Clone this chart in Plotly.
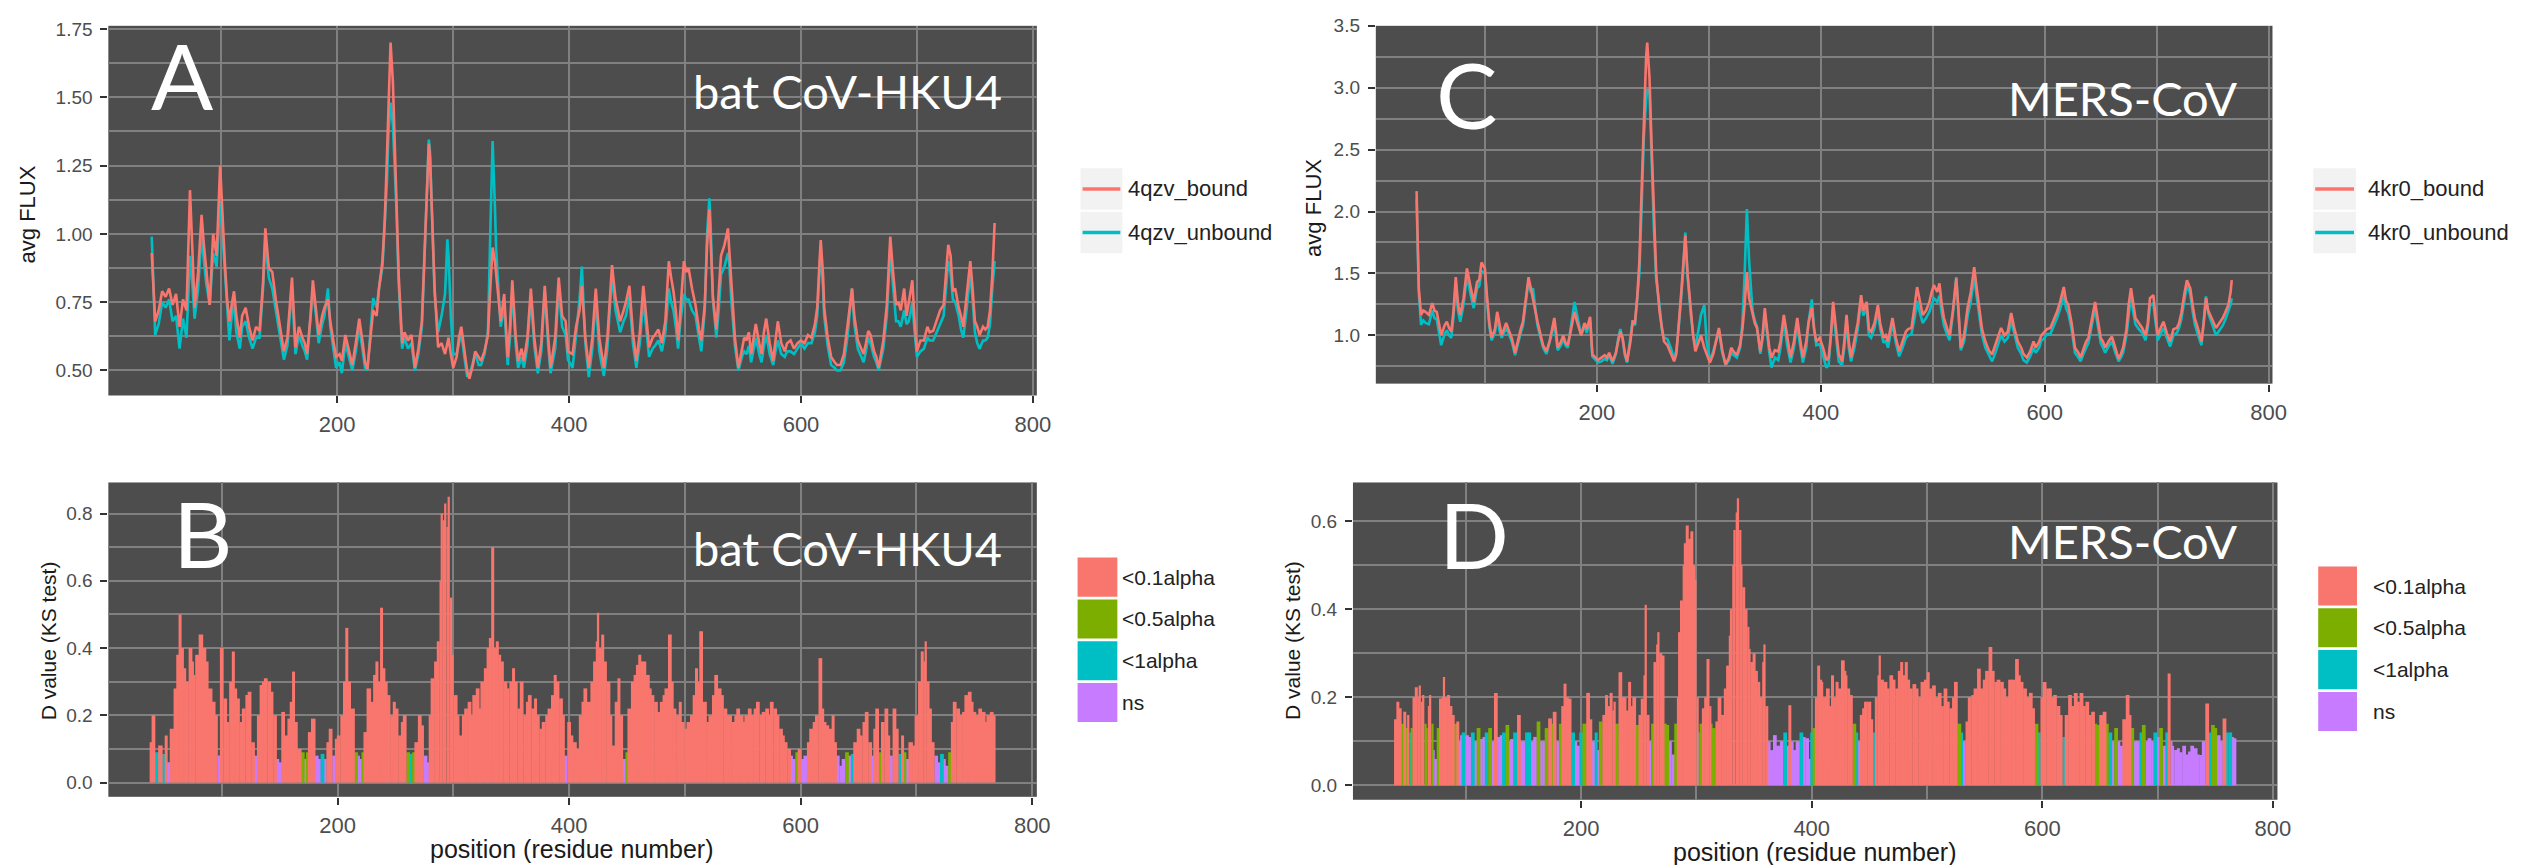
import numpy as np
import plotly.graph_objects as go

W, H = 2537, 865

# ---------------- Panel A : bat CoV-HKU4, avg FLUX ----------------
a_pos = [40, 43, 46, 49, 52, 55, 58, 61, 64, 67,
         70, 73, 75, 77, 80, 83, 85, 87, 90, 93,
         96, 99, 101, 103, 105, 107, 109, 111, 113, 116,
         118, 121, 124, 127, 130, 133, 136, 138, 141, 144,
         147, 149, 152, 154, 157, 159, 161, 164, 167, 170,
         172, 174, 177, 179, 182, 184, 187, 189, 192, 194,
         197, 199, 202, 204, 207, 210, 213, 216, 219, 222,
         224, 226, 229, 231, 234, 236, 239, 241, 243, 244,
         246, 248, 250, 251, 253, 256, 258, 261, 264, 267,
         270, 273, 275, 277, 279, 280, 282, 284, 287, 290,
         293, 295, 296, 298, 300, 303, 305, 307, 310, 312,
         314, 317, 319, 322, 324, 327, 330, 332, 334, 336,
         337, 339, 341, 344, 347, 349, 351, 354, 356, 359,
         361, 364, 367, 370, 373, 376, 379, 382, 384, 388,
         391, 394, 397, 399, 403, 406, 409, 411, 414, 417,
         420, 423, 426, 430, 433, 435, 437, 440, 444, 447,
         449, 452, 455, 458, 461, 464, 467, 469, 472, 474,
         477, 480, 483, 486, 488, 490, 492, 494, 496, 499,
         501, 503, 506, 509, 512, 514, 517, 519, 521, 522,
         524, 527, 529, 531, 534, 537, 538, 540, 543, 546,
         549, 551, 553, 555, 557, 559, 561, 564, 566, 568,
         570, 573, 576, 578, 580, 583, 586, 588, 591, 594,
         597, 600, 603, 606, 609, 612, 614, 616, 617, 619,
         620, 623, 626, 629, 631, 634, 637, 640, 642, 644,
         646, 649, 652, 654, 656, 658, 660, 663, 665, 667,
         669, 671, 674, 676, 677, 679, 680, 682, 684, 686,
         689, 691, 693, 696, 698, 700, 703, 706, 709, 711,
         714, 717, 720, 723, 725, 727, 729, 731, 733, 736,
         738, 740, 743, 746, 748, 750, 752, 754, 757, 759,
         761, 763, 765, 767]
a_bound = [0.93, 0.68, 0.72, 0.79, 0.77, 0.80, 0.74, 0.78, 0.66, 0.76,
           0.72, 1.16, 0.95, 0.73, 0.86, 1.07, 0.96, 0.87, 0.74, 1.00,
           0.92, 1.25, 1.05, 0.90, 0.76, 0.68, 0.74, 0.79, 0.70, 0.62,
           0.70, 0.73, 0.66, 0.61, 0.66, 0.645, 0.82, 1.02, 0.875, 0.86,
           0.76, 0.705, 0.62, 0.57, 0.62, 0.72, 0.84, 0.585, 0.66, 0.62,
           0.60, 0.56, 0.70, 0.83, 0.72, 0.63, 0.70, 0.73, 0.76, 0.68,
           0.60, 0.55, 0.56, 0.535, 0.63, 0.58, 0.52, 0.60, 0.69, 0.60,
           0.53, 0.505, 0.62, 0.72, 0.70, 0.80, 0.90, 1.05, 1.30, 1.47,
           1.70, 1.556, 1.30, 1.16, 0.85, 0.60, 0.64, 0.61, 0.63, 0.51,
           0.58, 0.68, 0.90, 1.16, 1.33, 1.28, 1.05, 0.80, 0.585, 0.60,
           0.56, 0.60, 0.62, 0.56, 0.51, 0.55, 0.62, 0.66, 0.56, 0.50,
           0.47, 0.52, 0.57, 0.55, 0.535, 0.57, 0.63, 0.80, 0.95, 0.90,
           0.85, 0.76, 0.68, 0.78, 0.55, 0.66, 0.83, 0.62, 0.535, 0.58,
           0.535, 0.62, 0.80, 0.62, 0.51, 0.60, 0.81, 0.62, 0.51, 0.62,
           0.84, 0.70, 0.68, 0.57, 0.56, 0.66, 0.72, 0.81, 0.62, 0.51,
           0.62, 0.80, 0.62, 0.51, 0.62, 0.75, 0.886, 0.765, 0.68, 0.72,
           0.75, 0.81, 0.64, 0.535, 0.64, 0.81, 0.66, 0.585, 0.62, 0.63,
           0.65, 0.60, 0.68, 0.90, 0.84, 0.79, 0.72, 0.61, 0.72, 0.90,
           0.86, 0.875, 0.80, 0.74, 0.65, 0.61, 0.74, 0.96, 1.09, 1.00,
           0.77, 0.65, 0.78, 0.92, 0.96, 1.02, 0.95, 0.80, 0.62, 0.51,
           0.58, 0.62, 0.61, 0.64, 0.56, 0.62, 0.67, 0.60, 0.56, 0.64,
           0.69, 0.60, 0.535, 0.61, 0.68, 0.60, 0.57, 0.60, 0.61, 0.58,
           0.60, 0.61, 0.60, 0.63, 0.62, 0.67, 0.73, 0.90, 0.977, 0.85,
           0.73, 0.62, 0.55, 0.53, 0.52, 0.52, 0.56, 0.66, 0.74, 0.80,
           0.70, 0.61, 0.58, 0.56, 0.60, 0.645, 0.63, 0.57, 0.55, 0.51,
           0.56, 0.61, 0.74, 0.90, 0.99, 0.88, 0.84, 0.74, 0.75, 0.72,
           0.80, 0.70, 0.75, 0.83, 0.68, 0.57, 0.61, 0.61, 0.66, 0.64,
           0.645, 0.68, 0.72, 0.74, 0.86, 0.96, 0.92, 0.79, 0.80, 0.73,
           0.70, 0.66, 0.78, 0.90, 0.80, 0.68, 0.66, 0.63, 0.66, 0.65,
           0.66, 0.72, 0.85, 1.04]
a_unbound = [0.99, 0.63, 0.67, 0.75, 0.73, 0.76, 0.68, 0.70, 0.58, 0.69,
             0.62, 0.92, 0.82, 0.69, 0.80, 1.00, 0.90, 0.82, 0.74, 0.93,
             0.88, 1.12, 1.00, 0.86, 0.72, 0.61, 0.70, 0.75, 0.64, 0.58,
             0.66, 0.68, 0.62, 0.58, 0.62, 0.62, 0.80, 0.97, 0.84, 0.80,
             0.72, 0.67, 0.58, 0.54, 0.59, 0.69, 0.80, 0.56, 0.63, 0.59,
             0.57, 0.54, 0.68, 0.80, 0.69, 0.60, 0.67, 0.70, 0.80, 0.66,
             0.57, 0.51, 0.53, 0.49, 0.60, 0.55, 0.50, 0.57, 0.66, 0.57,
             0.51, 0.50, 0.66, 0.765, 0.73, 0.80, 0.88, 1.02, 1.20, 1.35,
             1.48, 1.40, 1.20, 1.10, 0.82, 0.58, 0.62, 0.58, 0.60, 0.50,
             0.56, 0.66, 0.88, 1.14, 1.345, 1.30, 1.02, 0.78, 0.64, 0.70,
             0.78, 0.98, 0.92, 0.70, 0.56, 0.56, 0.60, 0.64, 0.54, 0.48,
             0.48, 0.53, 0.56, 0.52, 0.52, 0.56, 0.64, 1.00, 1.34, 1.10,
             0.95, 0.80, 0.66, 0.74, 0.52, 0.62, 0.80, 0.59, 0.51, 0.55,
             0.51, 0.59, 0.77, 0.59, 0.49, 0.57, 0.79, 0.59, 0.49, 0.58,
             0.80, 0.66, 0.63, 0.54, 0.51, 0.63, 0.76, 0.88, 0.60, 0.476,
             0.58, 0.76, 0.57, 0.48, 0.58, 0.72, 0.85, 0.72, 0.64, 0.68,
             0.70, 0.77, 0.60, 0.51, 0.60, 0.76, 0.62, 0.55, 0.58, 0.59,
             0.61, 0.57, 0.64, 0.80, 0.75, 0.72, 0.66, 0.58, 0.68, 0.78,
             0.76, 0.76, 0.72, 0.70, 0.62, 0.57, 0.72, 1.00, 1.13, 1.04,
             0.76, 0.62, 0.72, 0.85, 0.88, 0.93, 0.90, 0.75, 0.59, 0.50,
             0.55, 0.57, 0.56, 0.59, 0.53, 0.58, 0.62, 0.56, 0.53, 0.59,
             0.63, 0.56, 0.52, 0.57, 0.61, 0.56, 0.55, 0.57, 0.57, 0.56,
             0.58, 0.60, 0.58, 0.60, 0.60, 0.64, 0.70, 0.88, 0.95, 0.80,
             0.70, 0.59, 0.52, 0.51, 0.50, 0.50, 0.53, 0.62, 0.71, 0.80,
             0.67, 0.58, 0.55, 0.53, 0.57, 0.62, 0.60, 0.55, 0.53, 0.50,
             0.54, 0.58, 0.70, 0.85, 0.94, 0.83, 0.77, 0.68, 0.68, 0.66,
             0.72, 0.67, 0.68, 0.75, 0.64, 0.55, 0.57, 0.58, 0.62, 0.61,
             0.61, 0.64, 0.67, 0.70, 0.80, 0.90, 0.86, 0.76, 0.75, 0.70,
             0.65, 0.62, 0.73, 0.86, 0.76, 0.64, 0.60, 0.58, 0.61, 0.61,
             0.62, 0.67, 0.80, 0.90]

# ---------------- Panel C : MERS-CoV, avg FLUX ----------------
c_pos = [39, 41, 43, 45, 47, 50, 53, 55, 57, 59,
         61, 64, 66, 68, 70, 72, 74, 76, 78, 81,
         84, 87, 90, 93, 95, 97, 100, 102, 104, 106,
         109, 111, 113, 115, 117, 119, 121, 124, 127, 130,
         132, 134, 136, 139, 141, 143, 145, 147, 150, 152,
         155, 158, 160, 162, 164, 165, 168, 170, 172, 174,
         177, 180, 182, 184, 186, 189, 191, 194, 196, 199,
         201, 204, 207, 209, 211, 214, 217, 219, 221, 223,
         225, 227, 230, 232, 234, 236, 238, 240, 242, 244,
         245, 247, 249, 251, 253, 256, 258, 260, 263, 266,
         269, 271, 273, 275, 277, 279, 281, 284, 286, 288,
         291, 293, 296, 298, 301, 304, 307, 309, 312, 315,
         318, 320, 322, 325, 328, 330, 332, 334, 336, 339,
         341, 343, 346, 348, 350, 352, 354, 356, 359, 362,
         364, 367, 370, 373, 376, 379, 381, 384, 387, 389,
         392, 394, 396, 399, 402, 405, 407, 409, 411, 413,
         416, 419, 421, 423, 425, 427, 430, 433, 436, 438,
         441, 443, 445, 448, 451, 453, 456, 458, 460, 462,
         464, 467, 470, 473, 476, 478, 481, 484, 486, 488,
         491, 494, 497, 499, 501, 504, 506, 508, 510, 513,
         515, 518, 520, 521, 523, 525, 528, 531, 534, 537,
         539, 541, 544, 547, 550, 553, 556, 559, 561, 564,
         567, 570, 573, 576, 579, 581, 584, 587, 590, 592,
         595, 597, 599, 602, 605, 608, 611, 614, 617, 619,
         621, 624, 627, 630, 632, 635, 637, 639, 642, 645,
         647, 650, 652, 654, 657, 660, 663, 666, 668, 670,
         673, 675, 677, 679, 681, 684, 687, 690, 692, 694,
         697, 699, 701, 703, 706, 709, 712, 715, 718, 720,
         722, 725, 727, 729, 730, 732, 734, 737, 740, 742,
         744, 746, 749, 751, 753, 756, 759, 761, 764, 766,
         767]
c_bound = [2.165, 1.38, 1.165, 1.20, 1.19, 1.165, 1.26, 1.20, 1.19, 1.10,
           1.00, 1.08, 1.11, 1.06, 1.03, 1.20, 1.47, 1.25, 1.165, 1.30,
           1.54, 1.40, 1.27, 1.43, 1.45, 1.59, 1.54, 1.30, 1.10, 0.98,
           1.05, 1.19, 1.08, 1.00, 1.05, 1.10, 1.05, 0.98, 0.86, 0.98,
           1.05, 1.11, 1.25, 1.47, 1.38, 1.30, 1.20, 1.11, 1.00, 0.92,
           0.87, 0.96, 1.05, 1.14, 1.00, 0.90, 0.95, 1.00, 0.94, 0.92,
           1.05, 1.19, 1.12, 1.05, 1.00, 1.10, 1.05, 1.15, 0.845, 0.82,
           0.80, 0.82, 0.84, 0.82, 0.86, 0.79, 0.86, 0.95, 1.03, 0.98,
           0.86, 0.79, 0.95, 1.11, 1.10, 1.30, 1.60, 2.18, 2.80, 3.245,
           3.365, 3.085, 2.50, 1.91, 1.50, 1.19, 1.05, 0.95, 0.92, 0.85,
           0.79, 0.85, 1.05, 1.30, 1.55, 1.805, 1.50, 1.19, 1.00, 0.87,
           0.95, 1.00, 0.90, 0.85, 0.78, 0.85, 0.98, 1.06, 0.88, 0.765,
           0.82, 0.90, 0.87, 0.84, 0.925, 1.05, 1.245, 1.51, 1.30, 1.165,
           1.10, 1.06, 0.87, 1.00, 1.22, 1.05, 0.90, 0.82, 0.88, 0.87,
           0.95, 1.165, 0.98, 0.82, 0.95, 1.14, 1.00, 0.82, 0.95, 1.10,
           1.22, 1.05, 0.95, 0.98, 0.90, 0.80, 0.82, 1.00, 1.27, 1.10,
           0.85, 0.79, 0.95, 1.165, 0.95, 0.82, 0.95, 1.10, 1.325, 1.20,
           1.27, 1.05, 1.03, 1.10, 1.245, 1.10, 0.98, 1.00, 0.95, 1.05,
           1.14, 0.98, 0.87, 0.95, 1.03, 1.05, 1.06, 1.25, 1.39, 1.30,
           1.165, 1.20, 1.27, 1.35, 1.405, 1.35, 1.42, 1.25, 1.14, 1.05,
           1.00, 1.20, 1.40, 1.46, 1.20, 0.90, 1.00, 1.22, 1.35, 1.55,
           1.40, 1.245, 1.05, 0.95, 0.88, 0.845, 0.92, 1.00, 1.06, 1.00,
           1.03, 1.18, 1.05, 0.95, 0.90, 0.85, 0.82, 0.87, 0.95, 0.90,
           0.95, 1.00, 1.02, 1.05, 1.06, 1.12, 1.19, 1.28, 1.39, 1.28,
           1.245, 1.10, 0.90, 0.86, 0.82, 0.90, 0.95, 0.98, 1.12, 1.27,
           1.15, 0.98, 0.95, 0.90, 0.95, 0.99, 0.90, 0.81, 0.85, 0.90,
           1.05, 1.25, 1.38, 1.25, 1.14, 1.10, 1.06, 1.00, 1.10, 1.30,
           1.325, 1.15, 1.00, 1.05, 1.11, 1.02, 0.95, 1.05, 1.06, 1.10,
           1.18, 1.35, 1.445, 1.40, 1.38, 1.25, 1.14, 1.05, 0.95, 1.10,
           1.30, 1.20, 1.14, 1.10, 1.06, 1.10, 1.14, 1.18, 1.245, 1.35,
           1.445]
c_unbound = [2.10, 1.34, 1.085, 1.12, 1.10, 1.09, 1.20, 1.14, 1.13, 1.04,
             0.92, 1.01, 1.04, 1.00, 0.98, 1.15, 1.42, 1.20, 1.11, 1.25,
             1.48, 1.34, 1.22, 1.38, 1.40, 1.52, 1.50, 1.28, 1.07, 0.96,
             1.02, 1.16, 1.04, 0.98, 1.02, 1.06, 1.02, 0.95, 0.84, 0.96,
             1.02, 1.08, 1.22, 1.44, 1.35, 1.38, 1.22, 1.08, 0.97, 0.90,
             0.85, 0.94, 1.02, 1.10, 0.97, 0.88, 0.92, 0.98, 0.92, 0.90,
             1.08, 1.27, 1.18, 1.08, 1.00, 1.08, 1.02, 1.12, 0.83, 0.80,
             0.78, 0.79, 0.81, 0.80, 0.84, 0.77, 0.85, 0.97, 1.05, 0.97,
             0.84, 0.78, 0.97, 1.12, 1.08, 1.28, 1.50, 2.05, 2.60, 2.90,
             2.98, 2.98, 2.40, 1.85, 1.45, 1.24, 1.05, 0.98, 0.97, 0.90,
             0.81, 0.88, 1.05, 1.25, 1.50, 1.83, 1.48, 1.16, 1.00, 0.90,
             1.05, 1.165, 1.245, 0.95, 0.80, 0.87, 0.97, 1.04, 0.86, 0.76,
             0.80, 0.86, 0.84, 0.82, 0.90, 1.10, 1.50, 2.02, 1.60, 1.20,
             1.12, 1.07, 0.85, 0.97, 1.18, 1.00, 0.86, 0.74, 0.82, 0.80,
             0.90, 1.12, 0.92, 0.78, 0.90, 1.10, 0.95, 0.78, 0.90, 1.10,
             1.29, 1.06, 0.92, 0.93, 0.84, 0.74, 0.76, 0.96, 1.22, 1.04,
             0.79, 0.76, 0.90, 1.12, 0.90, 0.79, 0.90, 1.05, 1.28, 1.16,
             1.22, 1.00, 0.98, 1.06, 1.20, 1.06, 0.94, 0.96, 0.90, 1.00,
             1.10, 0.94, 0.83, 0.90, 0.98, 1.00, 1.01, 1.15, 1.28, 1.20,
             1.10, 1.14, 1.19, 1.25, 1.30, 1.27, 1.32, 1.18, 1.08, 1.00,
             0.96, 1.18, 1.42, 1.47, 1.18, 0.88, 0.95, 1.15, 1.28, 1.47,
             1.33, 1.18, 1.00, 0.90, 0.84, 0.79, 0.86, 0.95, 1.00, 0.95,
             0.98, 1.12, 1.00, 0.90, 0.85, 0.80, 0.78, 0.83, 0.90, 0.86,
             0.90, 0.96, 0.97, 1.01, 1.01, 1.07, 1.14, 1.22, 1.33, 1.22,
             1.18, 1.05, 0.86, 0.82, 0.79, 0.86, 0.90, 0.94, 1.08, 1.22,
             1.10, 0.94, 0.90, 0.86, 0.91, 0.95, 0.86, 0.79, 0.82, 0.86,
             1.00, 1.18, 1.32, 1.19, 1.09, 1.05, 1.02, 0.96, 1.06, 1.24,
             1.26, 1.10, 0.96, 1.00, 1.06, 0.98, 0.91, 1.00, 1.02, 1.06,
             1.13, 1.30, 1.40, 1.36, 1.33, 1.20, 1.09, 1.00, 0.92, 1.12,
             1.315, 1.18, 1.09, 1.05, 1.00, 1.04, 1.08, 1.12, 1.19, 1.25,
             1.30]

# ---------------- Panel B : bat CoV-HKU4, D value ----------------
b_pos = [39, 41, 44, 47, 50, 52, 54, 57, 60, 62,
         64, 66, 68, 70, 73, 75, 76, 79, 82, 85,
         87, 90, 93, 95, 98, 100, 103, 105, 108, 110,
         112, 114, 117, 119, 122, 124, 127, 129, 132, 134,
         136, 138, 141, 143, 146, 148, 151, 153, 156, 158,
         160, 162, 164, 167, 170, 172, 174, 176, 179, 182,
         184, 187, 189, 192, 194, 197, 199, 201, 204, 206,
         208, 210, 213, 216, 218, 220, 222, 224, 227, 230,
         232, 234, 236, 238, 240, 242, 244, 247, 249, 251,
         254, 256, 258, 261, 263, 266, 268, 271, 273, 276,
         278, 280, 282, 285, 287, 289, 290, 292, 293, 295,
         296, 298, 299, 302, 304, 306, 309, 311, 314, 316,
         318, 321, 323, 325, 328, 330, 332, 334, 336, 338,
         340, 342, 345, 347, 350, 352, 354, 357, 359, 362,
         364, 366, 369, 371, 373, 376, 378, 381, 383, 386,
         388, 390, 393, 395, 397, 400, 402, 405, 407, 410,
         412, 414, 417, 420, 422, 424, 425, 427, 429, 431,
         434, 436, 438, 441, 443, 445, 448, 450, 452, 455,
         457, 459, 461, 463, 465, 468, 470, 472, 475, 477,
         480, 482, 484, 487, 489, 491, 494, 496, 498, 501,
         503, 506, 508, 510, 512, 514, 517, 520, 522, 525,
         527, 530, 532, 535, 537, 539, 542, 544, 546, 549,
         551, 553, 556, 558, 561, 563, 566, 568, 571, 573,
         575, 578, 580, 583, 585, 587, 590, 592, 594, 597,
         599, 602, 604, 607, 609, 612, 614, 617, 619, 621,
         623, 626, 628, 630, 632, 635, 637, 640, 642, 645,
         647, 650, 652, 655, 657, 660, 662, 664, 666, 669,
         671, 674, 676, 678, 681, 683, 686, 688, 690, 692,
         695, 698, 700, 703, 705, 707, 708, 710, 712, 714,
         717, 719, 722, 724, 726, 729, 731, 733, 736, 738,
         741, 743, 746, 748, 750, 753, 755, 758, 760, 762,
         765, 767]
b_val = [0.12, 0.20, 0.09, 0.11, 0.085, 0.14, 0.06, 0.16, 0.28, 0.38,
         0.50, 0.40, 0.34, 0.30, 0.40, 0.36, 0.32, 0.38, 0.44, 0.40,
         0.36, 0.28, 0.24, 0.20, 0.08, 0.40, 0.25, 0.18, 0.30, 0.39,
         0.28, 0.25, 0.18, 0.22, 0.26, 0.27, 0.12, 0.08, 0.20, 0.29,
         0.30, 0.31, 0.30, 0.27, 0.20, 0.07, 0.06, 0.21, 0.14, 0.19,
         0.24, 0.33, 0.18, 0.10, 0.09, 0.07, 0.09, 0.15, 0.19, 0.08,
         0.07, 0.085, 0.07, 0.12, 0.16, 0.08, 0.13, 0.14, 0.20, 0.30,
         0.46, 0.30, 0.22, 0.09, 0.08, 0.07, 0.09, 0.15, 0.28, 0.24,
         0.32, 0.36, 0.30, 0.52, 0.34, 0.30, 0.26, 0.20, 0.24, 0.22,
         0.14, 0.18, 0.20, 0.09, 0.085, 0.09, 0.12, 0.20, 0.17, 0.08,
         0.06, 0.20, 0.31, 0.36, 0.42, 0.60, 0.80, 0.78, 0.83, 0.76,
         0.85, 0.55, 0.38, 0.26, 0.20, 0.14, 0.20, 0.22, 0.24, 0.20,
         0.26, 0.28, 0.22, 0.30, 0.34, 0.40, 0.43, 0.70, 0.40, 0.42,
         0.38, 0.36, 0.30, 0.28, 0.30, 0.34, 0.30, 0.22, 0.30, 0.20,
         0.24, 0.26, 0.22, 0.25, 0.20, 0.16, 0.18, 0.20, 0.22, 0.26,
         0.32, 0.30, 0.25, 0.20, 0.08, 0.18, 0.14, 0.12, 0.10, 0.20,
         0.24, 0.28, 0.24, 0.30, 0.36, 0.42, 0.505, 0.40, 0.44, 0.36,
         0.30, 0.20, 0.11, 0.24, 0.31, 0.20, 0.07, 0.09, 0.22, 0.30,
         0.32, 0.35, 0.38, 0.36, 0.36, 0.32, 0.28, 0.26, 0.24, 0.21,
         0.24, 0.26, 0.28, 0.44, 0.30, 0.22, 0.20, 0.24, 0.18, 0.16,
         0.18, 0.20, 0.26, 0.34, 0.30, 0.45, 0.24, 0.18, 0.20, 0.26,
         0.32, 0.28, 0.26, 0.22, 0.20, 0.20, 0.18, 0.20, 0.22, 0.20,
         0.18, 0.20, 0.22, 0.20, 0.22, 0.24, 0.20, 0.21, 0.22, 0.20,
         0.24, 0.22, 0.20, 0.16, 0.14, 0.12, 0.10, 0.08, 0.07, 0.09,
         0.10, 0.07, 0.08, 0.12, 0.16, 0.18, 0.20, 0.37, 0.22, 0.18,
         0.17, 0.16, 0.20, 0.12, 0.08, 0.05, 0.07, 0.09, 0.08, 0.085,
         0.12, 0.16, 0.14, 0.18, 0.21, 0.12, 0.08, 0.16, 0.22, 0.09,
         0.18, 0.22, 0.14, 0.08, 0.22, 0.16, 0.085, 0.14, 0.09, 0.07,
         0.12, 0.11, 0.20, 0.30, 0.39, 0.36, 0.42, 0.30, 0.22, 0.12,
         0.08, 0.06, 0.085, 0.07, 0.05, 0.09, 0.18, 0.24, 0.22, 0.20,
         0.21, 0.26, 0.27, 0.24, 0.21, 0.20, 0.22, 0.21, 0.18, 0.20,
         0.21, 0.20]
b_cat = ("rrtrtrprrr" "rrrrrrrrrr" "rrrrprrrrr" "rrrrrrrprr" "rrrrrpprrr"
         "rrrrgpgrrp" "ptprrprrrr" "rrrgppgrrr" "rrrrrrrrrr" "rrrgtgrrrp"
         "prrrrrrrrr" "rrrrrrrrrr" "rrrrrrrrrr" "rrrrrrrrrr" "rrrrrrrrrr"
         "rrrrprrrrr" "rrrrrrrrrr" "rrrrrrpgrr" "rrrrrrrrrr" "rrrrrrrrrr"
         "rrrrrrrrrr" "rrrrrrrrrr" "rrrrrrrrrr" "rrrrrrrppg" "rpprrrrrrr"
         "rrrrpppgpt" "rrrrrrprrg" "rrrprrtrgp" "rrrrrrrrrr" "pptppgrrrr"
         "rrrrrrrrrr" "rr")

# ---------------- Panel D : MERS-CoV, D value ----------------
d_pos = [39, 41, 43, 45, 47, 49, 50, 52, 53, 55,
         57, 59, 60, 62, 63, 65, 66, 68, 69, 71,
         72, 74, 76, 78, 80, 81, 83, 85, 87, 89,
         91, 93, 95, 96, 98, 101, 103, 106, 108, 111,
         113, 116, 118, 121, 123, 126, 128, 131, 133, 136,
         138, 140, 143, 146, 148, 150, 153, 155, 158, 160,
         163, 165, 168, 170, 173, 175, 177, 180, 182, 184,
         186, 188, 190, 193, 195, 198, 200, 203, 206, 208,
         211, 213, 215, 217, 220, 222, 224, 226, 228, 229,
         231, 234, 236, 238, 240, 242, 244, 246, 249, 251,
         253, 255, 256, 258, 260, 262, 264, 266, 267, 269,
         271, 273, 275, 277, 280, 282, 284, 285, 287, 289,
         290, 292, 294, 296, 298, 299, 301, 302, 304, 306,
         308, 310, 312, 313, 315, 318, 320, 323, 325, 327,
         329, 330, 332, 333, 335, 336, 338, 339, 341, 343,
         345, 346, 348, 350, 352, 354, 356, 358, 359, 361,
         363, 365, 368, 370, 372, 374, 377, 379, 381, 383,
         385, 388, 391, 393, 396, 398, 400, 402, 404, 406,
         408, 409, 411, 414, 416, 418, 420, 422, 424, 427,
         429, 430, 432, 434, 437, 439, 441, 443, 445, 447,
         450, 452, 454, 456, 458, 459, 461, 464, 466, 469,
         471, 474, 476, 478, 480, 482, 484, 486, 489, 491,
         494, 496, 499, 501, 503, 506, 508, 511, 513, 516,
         518, 521, 523, 525, 528, 530, 532, 535, 537, 540,
         542, 545, 547, 550, 552, 555, 557, 560, 562, 565,
         567, 570, 572, 575, 578, 580, 582, 585, 587, 590,
         592, 595, 597, 600, 602, 605, 607, 609, 611, 614,
         616, 619, 621, 624, 626, 629, 631, 634, 636, 639,
         641, 644, 646, 649, 651, 654, 656, 659, 661, 664,
         666, 669, 671, 674, 676, 678, 681, 683, 686, 688,
         691, 693, 696, 698, 701, 703, 706, 708, 710, 712,
         713, 716, 718, 720, 723, 725, 728, 730, 733, 735,
         738, 740, 743, 745, 748, 750, 753, 755, 758, 760,
         763, 765, 767]
d_val = [0.15, 0.19, 0.175, 0.14, 0.167, 0.13, 0.16, 0.12, 0.13, 0.20,
         0.223, 0.20, 0.227, 0.19, 0.205, 0.14, 0.13, 0.18, 0.205, 0.14,
         0.08, 0.06, 0.13, 0.197, 0.20, 0.246, 0.20, 0.205, 0.18, 0.16,
         0.14, 0.145, 0.10, 0.114, 0.12, 0.114, 0.11, 0.12, 0.10, 0.13,
         0.105, 0.11, 0.12, 0.13, 0.10, 0.21, 0.11, 0.114, 0.12, 0.137,
         0.10, 0.105, 0.12, 0.16, 0.10, 0.10, 0.12, 0.12, 0.10, 0.11,
         0.145, 0.10, 0.10, 0.13, 0.152, 0.14, 0.167, 0.10, 0.14, 0.18,
         0.231, 0.20, 0.197, 0.12, 0.10, 0.09, 0.12, 0.14, 0.21, 0.15,
         0.10, 0.12, 0.08, 0.145, 0.16, 0.205, 0.18, 0.21, 0.17, 0.19,
         0.14, 0.257, 0.20, 0.20, 0.17, 0.235, 0.18, 0.20, 0.137, 0.16,
         0.197, 0.25, 0.41, 0.16, 0.10, 0.14, 0.28, 0.32, 0.348, 0.30,
         0.295, 0.14, 0.137, 0.10, 0.07, 0.14, 0.20, 0.348, 0.42, 0.50,
         0.55, 0.59, 0.56, 0.577, 0.50, 0.467, 0.20, 0.12, 0.14, 0.175,
         0.20, 0.287, 0.18, 0.14, 0.13, 0.145, 0.20, 0.16, 0.22, 0.272,
         0.34, 0.40, 0.50, 0.58, 0.62, 0.652, 0.58, 0.50, 0.45, 0.40,
         0.36, 0.31, 0.28, 0.30, 0.26, 0.235, 0.20, 0.28, 0.32, 0.18,
         0.10, 0.08, 0.114, 0.09, 0.09, 0.10, 0.12, 0.09, 0.182, 0.10,
         0.08, 0.10, 0.12, 0.11, 0.107, 0.06, 0.12, 0.13, 0.20, 0.272,
         0.24, 0.235, 0.20, 0.22, 0.18, 0.25, 0.20, 0.235, 0.22, 0.284,
         0.26, 0.25, 0.22, 0.205, 0.14, 0.12, 0.10, 0.16, 0.175, 0.19,
         0.19, 0.15, 0.12, 0.20, 0.25, 0.295, 0.24, 0.235, 0.22, 0.25,
         0.24, 0.22, 0.26, 0.28, 0.25, 0.28, 0.24, 0.22, 0.23, 0.22,
         0.20, 0.235, 0.24, 0.257, 0.22, 0.227, 0.20, 0.21, 0.18, 0.22,
         0.19, 0.175, 0.20, 0.235, 0.14, 0.12, 0.10, 0.145, 0.20, 0.205,
         0.22, 0.265, 0.22, 0.24, 0.26, 0.314, 0.26, 0.235, 0.24, 0.235,
         0.22, 0.20, 0.24, 0.24, 0.287, 0.25, 0.235, 0.22, 0.20, 0.21,
         0.175, 0.14, 0.12, 0.20, 0.235, 0.22, 0.22, 0.20, 0.205, 0.18,
         0.16, 0.11, 0.16, 0.205, 0.18, 0.21, 0.19, 0.21, 0.18, 0.19,
         0.16, 0.167, 0.14, 0.137, 0.16, 0.167, 0.14, 0.12, 0.10, 0.13,
         0.10, 0.09, 0.15, 0.205, 0.16, 0.13, 0.10, 0.10, 0.12, 0.137,
         0.10, 0.107, 0.10, 0.12, 0.11, 0.13, 0.09, 0.12, 0.254, 0.10,
         0.09, 0.08, 0.084, 0.075, 0.09, 0.07, 0.077, 0.09, 0.084, 0.07,
         0.069, 0.10, 0.186, 0.12, 0.137, 0.13, 0.114, 0.10, 0.152, 0.12,
         0.12, 0.11, 0.107]
d_cat = ("rrrgrgrtgr" "rrrrrggrrg" "ppgrrrrrrr" "grpptpptpg" "pptgprpptg"
         "pptrppttpp" "gppgrgrpgr" "rrrtpptgrr" "ptpgrrrrrr" "grrrrrrrgr"
         "rrrrpgrrrr" "rggppgrrrr" "rrrrrrrtgr" "rrrggrrrrr" "rrrrrrrrrr"
         "rrrrrrrrrr" "pppppptprp" "pptppptgrr" "rrrrrrrrrr" "rrrrgtprrr"
         "rrtrrrrrrr" "rrrrrrrrrr" "rrrrrrrrrr" "rrrrgtprrr" "rrrrrrrrrr"
         "rrrrrrrrrr" "rgtrrrrrrr" "rtrrrrrrrr" "rrggrrgtpg" "pprrrgpptg"
         "ppptpgptrp" "pppppppppp" "pprtggpprt" "tpp")

# ---------------- labels / styles ----------------
line_labels_A = ["4qzv_bound", "4qzv_unbound"]
line_labels_C = ["4kr0_bound", "4kr0_unbound"]
cat_codes = ["r", "g", "t", "p"]
cat_labels = ["<0.1alpha", "<0.5alpha", "<1alpha", "ns"]
cat_colors = ["#F8766D", "#7CAE00", "#00BFC4", "#C77CFF"]
RED, TEAL = "#F8766D", "#00BFC4"

PANEL_BG = "#4D4D4D"
GRID = "#808080"
TICKC = "#4D4D4D"
TXT = "#1A1A1A"
SANS = "Liberation Sans, Arial, Helvetica, sans-serif"
CAL = "Lato, Open Sans, sans-serif"

fig = go.Figure()

# lines (unbound first, bound drawn on top)
for xa, ya, pos, yb, yu in [("x", "y", a_pos, a_bound, a_unbound),
                            ("x3", "y3", c_pos, c_bound, c_unbound)]:
    fig.add_trace(go.Scatter(x=pos, y=yu, mode="lines", line=dict(color=TEAL, width=2.6),
                             xaxis=xa, yaxis=ya, showlegend=False, hoverinfo="skip"))
    fig.add_trace(go.Scatter(x=pos, y=yb, mode="lines", line=dict(color=RED, width=2.6),
                             xaxis=xa, yaxis=ya, showlegend=False, hoverinfo="skip"))

# bars: one trace per significance class; low classes first, red on top
def add_bars(pos, val, cats, xa, ya):
    pos = np.asarray(pos, float)
    val = np.asarray(val, float)
    cats = np.array(list(cats))
    assert len(pos) == len(val) == len(cats), (len(pos), len(val), len(cats))
    w = np.gradient(pos) * 1.3
    for code, col in list(zip(cat_codes, cat_colors))[::-1]:
        m = cats == code
        if m.any():
            fig.add_trace(go.Bar(x=pos[m], y=val[m], width=w[m],
                                 marker=dict(color=col, line=dict(width=0)),
                                 xaxis=xa, yaxis=ya, showlegend=False, hoverinfo="skip"))

add_bars(b_pos, b_val, b_cat, "x2", "y2")
add_bars(d_pos, d_val, d_cat, "x4", "y4")

def px_x(p):
    return p / W

def px_y(p):
    return 1 - p / H

def xax(dom, anchor, rng):
    return dict(domain=dom, anchor=anchor, range=rng, tick0=0, dtick=200,
                showgrid=True, gridcolor=GRID, gridwidth=2, zeroline=False, showline=False,
                ticks="outside", ticklen=7, tickwidth=2, tickcolor="#333333",
                ticklabelstandoff=2,
                tickfont=dict(family=SANS, size=22, color=TICKC),
                minor=dict(tick0=0, dtick=100, showgrid=True, gridcolor=GRID, gridwidth=2, ticklen=0))

def yax(dom, anchor, rng, dt, mdt, fmt):
    return dict(domain=dom, anchor=anchor, range=rng, tick0=0, dtick=dt, tickformat=fmt,
                showgrid=True, gridcolor=GRID, gridwidth=2, zeroline=False, showline=False,
                ticks="outside", ticklen=7, tickwidth=2, tickcolor="#333333",
                ticklabelstandoff=4,
                tickfont=dict(family=SANS, size=19, color=TICKC),
                minor=dict(tick0=0, dtick=mdt, showgrid=True, gridcolor=GRID, gridwidth=2, ticklen=0))

domA_x = [px_x(109), px_x(1043)]
domA_y = [px_y(390), px_y(16)]
domB_x = [px_x(109), px_x(1043)]
domB_y = [px_y(796), px_y(478)]
domC_x = [px_x(1384), px_x(2286)]
domC_y = [px_y(378), px_y(16)]
domD_x = [px_x(1361), px_x(2291)]
domD_y = [px_y(799), px_y(478)]

fig.update_layout(
    width=W, height=H, margin=dict(l=0, r=0, t=0, b=0),
    paper_bgcolor="white", plot_bgcolor=PANEL_BG, barmode="overlay",
    xaxis=xax(domA_x, "y", [2.6, 803.4]),
    yaxis=yax(domA_y, "x", [0.4085, 1.7615], 0.25, 0.125, ".2f"),
    xaxis2=xax(domB_x, "y2", [2.05, 803.95]),
    yaxis2=yax(domB_y, "x2", [-0.0425, 0.8925], 0.2, 0.1, ".1f"),
    xaxis3=xax(domC_x, "y3", [2.6, 803.4]),
    yaxis3=yax(domC_y, "x3", [0.61, 3.50], 0.5, 0.25, ".1f"),
    xaxis4=xax(domD_x, "y4", [2.05, 803.95]),
    yaxis4=yax(domD_y, "x4", [-0.0328, 0.688], 0.2, 0.1, ".1f"),
)

ann = []
shapes = []

def text(x, y, s, size, color=TXT, family=SANS, xanchor="center", yanchor="middle", angle=0):
    ann.append(dict(x=px_x(x), y=px_y(y), xref="paper", yref="paper", text=s, showarrow=False,
                    xanchor=xanchor, yanchor=yanchor, textangle=angle,
                    font=dict(family=family, size=size, color=color)))

# panel letters and subtitles
text(150, 65, "A", 92, "white", CAL, xanchor="left")
text(1010, 82, "bat CoV-HKU4", 47, "white", CAL, xanchor="right")
text(172, 529, "B", 92, "white", CAL, xanchor="left")
text(1010, 544, "bat CoV-HKU4", 47, "white", CAL, xanchor="right")
text(1443, 84, "C", 92, "white", CAL, xanchor="left")
text(2252, 89, "MERS-CoV", 47, "white", CAL, xanchor="right")
text(1446, 530, "D", 92, "white", CAL, xanchor="left")
text(2252, 537, "MERS-CoV", 47, "white", CAL, xanchor="right")

# axis titles
text(28, 207, "avg FLUX", 22, angle=-90)
text(1321, 200, "avg FLUX", 22, angle=-90)
text(49, 638, "D value (KS test)", 21, angle=-90)
text(1300, 638, "D value (KS test)", 21, angle=-90)
text(575, 849, "position (residue number)", 25)
text(1825, 852, "position (residue number)", 25)

# line legends
for (kx0, kx1, tx, labels) in [(1087, 1129, 1133, line_labels_A), (2327, 2370, 2380, line_labels_C)]:
    for i, (lab, col) in enumerate(zip(labels, [RED, TEAL])):
        y0 = 160 + i * 44
        y1 = y0 + 42
        shapes.append(dict(type="rect", xref="paper", yref="paper",
                           x0=px_x(kx0), x1=px_x(kx1), y0=px_y(y1), y1=px_y(y0),
                           fillcolor="#F2F2F2", line=dict(width=0), layer="above"))
        yc = (y0 + y1) / 2
        shapes.append(dict(type="line", xref="paper", yref="paper",
                           x0=px_x(kx0 + 2), x1=px_x(kx1 - 2), y0=px_y(yc), y1=px_y(yc),
                           line=dict(color=col, width=3.5), layer="above"))
        text(tx, yc, lab, 22, "#222222", xanchor="left")

# bar legends
for (kx0, kx1, tx, ytop) in [(1084, 1124, 1127, 554), (2332, 2371, 2385, 563)]:
    for i, (lab, col) in enumerate(zip(cat_labels, cat_colors)):
        y0 = ytop + i * 42.3
        y1 = y0 + 39.5
        shapes.append(dict(type="rect", xref="paper", yref="paper",
                           x0=px_x(kx0), x1=px_x(kx1), y0=px_y(y1), y1=px_y(y0),
                           fillcolor=col, line=dict(width=0), layer="above"))
        text(tx, (y0 + y1) / 2, lab, 21, "#222222", xanchor="left")

fig.update_layout(annotations=ann, shapes=shapes)
fig.write_html("out.html")
